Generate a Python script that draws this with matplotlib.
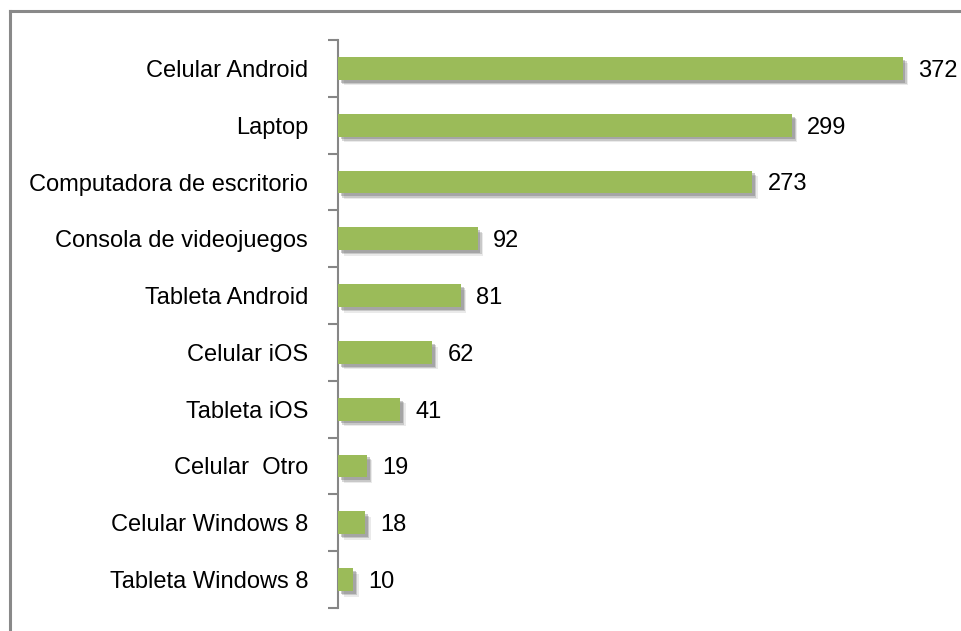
import numpy as np
import matplotlib.pyplot as plt
import matplotlib.patheffects as pe
from matplotlib.lines import Line2D

plt.rcParams['font.family'] = ['Liberation Sans', 'DejaVu Sans']

categories = ["Celular Android", "Laptop", "Computadora de escritorio",
              "Consola de videojuegos", "Tableta Android", "Celular iOS",
              "Tableta iOS", "Celular  Otro", "Celular Windows 8",
              "Tableta Windows 8"]
values = [372, 299, 273, 92, 81, 62, 41, 19, 18, 10]

BAR_COLOR = "#9BBB59"
AXIS_COLOR = "#868686"

fig = plt.figure(figsize=(9.61, 6.31), dpi=100)
ax = fig.add_axes([338 / 961, 23 / 631, 607 / 961, 568 / 631])

y = np.arange(len(categories))
bars = ax.barh(y, values, height=0.4, color=BAR_COLOR, zorder=3)
# soft drop shadow, down and to the right
for b in bars:
    b.set_path_effects([
        pe.SimplePatchShadow(offset=(4, -4), shadow_rgbFace="#777777", alpha=0.15),
        pe.SimplePatchShadow(offset=(3, -3), shadow_rgbFace="#666666", alpha=0.25),
        pe.SimplePatchShadow(offset=(2, -2), shadow_rgbFace="#555555", alpha=0.3),
        pe.Normal(),
    ])

ax.set_ylim(len(categories) - 0.5, -0.5)
ax.set_xlim(0, 400)

texts = ax.bar_label(bars, labels=[str(v) for v in values], padding=11, fontsize=17)
for t in texts:
    t.set_va("center_baseline")

# category labels, ticks at the boundaries
ax.set_yticks(y)
ax.set_yticklabels(categories, fontsize=17)
ax.tick_params(axis="y", which="major", length=0, pad=21.5)
ax.set_yticks(np.arange(-0.5, len(categories)), minor=True)
ax.tick_params(axis="y", which="minor", length=7, width=1.5, color=AXIS_COLOR)

ax.set_xticks([])
for s in ["top", "right", "bottom"]:
    ax.spines[s].set_visible(False)
ax.spines["left"].set_color(AXIS_COLOR)
ax.spines["left"].set_linewidth(1.5)

# frame of the chart area (only top and left edges visible)
fig.add_artist(Line2D([10 / 961, 1], [1 - 11 / 631, 1 - 11 / 631],
                      transform=fig.transFigure, color="#898989", lw=2.2))
fig.add_artist(Line2D([10 / 961, 10 / 961], [0, 1 - 11 / 631],
                      transform=fig.transFigure, color="#898989", lw=2.2))

fig.savefig("out.png", dpi=100)
